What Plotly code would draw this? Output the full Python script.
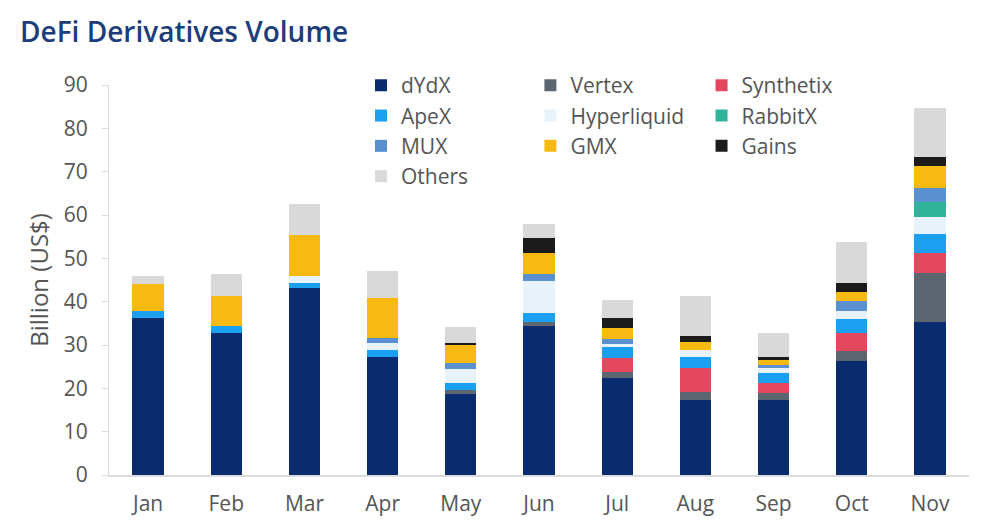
import plotly.graph_objects as go

months = ["Jan", "Feb", "Mar", "Apr", "May", "Jun", "Jul", "Aug", "Sep", "Oct", "Nov"]

dydx        = [36.3, 32.7, 43.1, 27.3, 18.8, 34.5, 22.3, 17.3, 17.3, 26.3, 35.2]
vertex      = [0.0, 0.0, 0.0, 0.0, 0.8, 0.9, 1.5, 1.8, 1.7, 2.4, 11.5]
synthetix   = [0.0, 0.0, 0.0, 0.0, 0.0, 0.0, 3.3, 5.7, 2.2, 4.0, 4.5]
apex        = [1.5, 1.8, 1.3, 1.5, 1.6, 2.1, 2.4, 2.5, 2.3, 3.2, 4.4]
hyperliquid = [0.0, 0.0, 1.5, 1.6, 3.3, 7.3, 0.8, 1.5, 1.3, 1.9, 4.0]
rabbitx     = [0.0, 0.0, 0.0, 0.0, 0.0, 0.0, 0.0, 0.0, 0.0, 0.0, 3.3]
mux         = [0.0, 0.0, 0.0, 1.3, 1.3, 1.7, 1.1, 0.0, 0.7, 2.4, 3.4]
gmx         = [6.3, 6.9, 9.5, 9.2, 4.4, 4.7, 2.6, 2.0, 1.0, 2.1, 4.9]
gains       = [0.0, 0.0, 0.0, 0.0, 0.3, 3.4, 2.3, 1.3, 0.7, 1.9, 2.1]
others      = [1.9, 5.1, 7.1, 6.2, 3.7, 3.4, 4.2, 9.2, 5.5, 9.6, 11.3]

series = [
    ("dYdX", dydx, "#0a2c6e", "legend"),
    ("Vertex", vertex, "#5b6670", "legend2"),
    ("Synthetix", synthetix, "#e4485e", "legend3"),
    ("ApeX", apex, "#1b9ff0", "legend"),
    ("Hyperliquid", hyperliquid, "#e8f2fb", "legend2"),
    ("RabbitX", rabbitx, "#2fb39a", "legend3"),
    ("MUX", mux, "#5a8fd0", "legend"),
    ("GMX", gmx, "#f8b913", "legend2"),
    ("Gains", gains, "#1b1b1b", "legend3"),
    ("Others", others, "#d9d9d9", "legend"),
]

FONT = "Open Sans"
TXT = "#555555"

fig = go.Figure()
for name, vals, color, leg in series:
    fig.add_trace(go.Bar(
        x=months, y=vals, name=name, legend=leg,
        marker=dict(color=color, line=dict(width=0)),
    ))

leg_common = dict(
    xref="paper", yref="paper", yanchor="top", xanchor="left",
    font=dict(family=FONT, size=21, color=TXT), traceorder="normal",
    bgcolor="rgba(0,0,0,0)", tracegroupgap=0, itemwidth=30,
)

fig.update_layout(
    width=1000, height=531,
    barmode="stack", bargap=0.6,
    plot_bgcolor="white", paper_bgcolor="white",
    margin=dict(l=101, r=39, t=77, b=64, autoexpand=False),
    font=dict(family=FONT, size=18, color=TXT),
    title=dict(text="DeFi Derivatives Volume", x=0.012, xanchor="left",
               y=0.972, yanchor="top", xref="container", yref="container",
               font=dict(family=FONT, size=28, color="#1d3d7a", weight=600)),
    legend=dict(x=0.293, y=1.051, **leg_common),
    legend2=dict(x=0.490, y=1.051, **leg_common),
    legend3=dict(x=0.689, y=1.051, **leg_common),
    xaxis=dict(showline=True, linecolor="#dcdcdc", linewidth=1.5, ticks="",
               ticklabelstandoff=9,
               tickfont=dict(family=FONT, size=21, color=TXT), showgrid=False),
    yaxis=dict(range=[0, 90], dtick=10, showgrid=False, zeroline=False,
               showline=True, linecolor="#dcdcdc", linewidth=1, ticks="outside",
               ticklen=6, tickcolor="#dcdcdc", ticklabelstandoff=10,
               tickfont=dict(family=FONT, size=21, color=TXT),
               title=dict(text="Billion (US$)", standoff=8,
                          font=dict(family=FONT, size=24, color=TXT))),
)

fig.write_html("out.html")
